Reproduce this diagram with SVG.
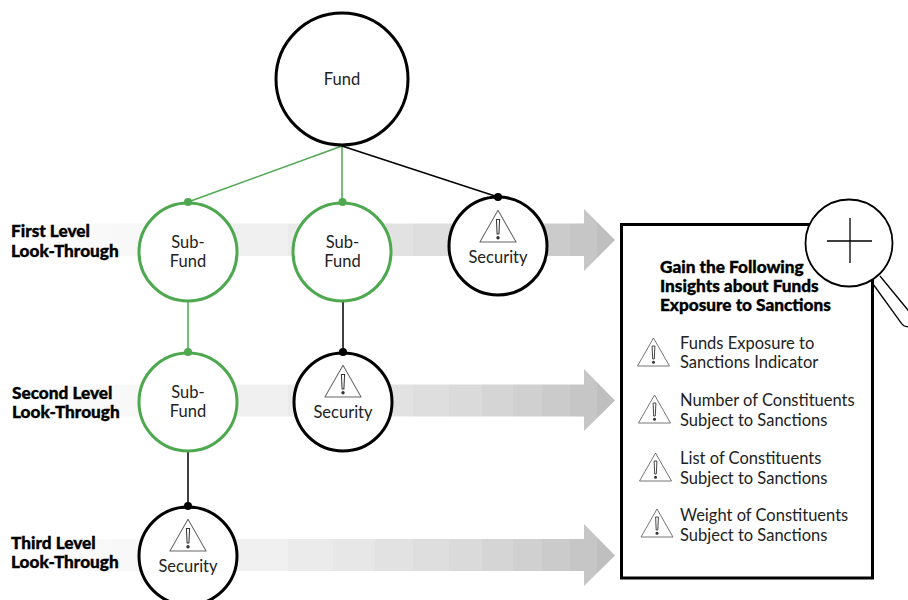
<svg xmlns="http://www.w3.org/2000/svg" xmlns:xlink="http://www.w3.org/1999/xlink" width="908" height="600" viewBox="0 0 908 600">
<style>
text{font-family:"Lato","Open Sans","Liberation Sans",sans-serif;fill:#222}
.t{font-size:16.500px;text-anchor:middle}
.b{font-size:16.500px}
.l{font-size:17.200px;font-weight:900;fill:#000;stroke:#000;stroke-width:.35}
.h{font-size:17.200px;font-weight:900;fill:#000;stroke:#000;stroke-width:.35}
.n{fill:#fff;stroke:#000;stroke-width:3}
.g{fill:#fff;stroke:#4ea84f;stroke-width:3}
.cg{stroke:#4ea84f;stroke-width:1.500;fill:none}
.ck{stroke:#000;stroke-width:1.500;fill:none}
.dg{fill:#4ea84f}
.dk{fill:#000}
.m{fill:none;stroke:#000;stroke-width:1.300}
</style>
<defs>
<linearGradient id="band" gradientUnits="userSpaceOnUse" x1="0" y1="0" x2="620" y2="0">
<stop offset="0" stop-color="#fff"/><stop offset=".1" stop-color="#fcfcfc"/>
<stop offset=".1" stop-color="#fafafa"/><stop offset=".3" stop-color="#f6f6f6"/>
<stop offset=".3" stop-color="#f0f0f0"/><stop offset=".465" stop-color="#f0f0f0"/>
<stop offset=".465" stop-color="#ebebeb"/><stop offset=".537" stop-color="#ebebeb"/>
<stop offset=".537" stop-color="#e7e7e7"/><stop offset=".605" stop-color="#e7e7e7"/>
<stop offset=".605" stop-color="#e2e2e2"/><stop offset=".666" stop-color="#e2e2e2"/>
<stop offset=".666" stop-color="#dedede"/><stop offset=".724" stop-color="#dedede"/>
<stop offset=".724" stop-color="#dadada"/><stop offset=".777" stop-color="#dadada"/>
<stop offset=".777" stop-color="#d5d5d5"/><stop offset=".827" stop-color="#d5d5d5"/>
<stop offset=".827" stop-color="#d0d0d0"/><stop offset=".874" stop-color="#d0d0d0"/>
<stop offset=".874" stop-color="#cbcbcb"/><stop offset=".919" stop-color="#cbcbcb"/>
<stop offset=".919" stop-color="#c6c6c6"/><stop offset=".963" stop-color="#c6c6c6"/>
<stop offset=".963" stop-color="#bfbfbf"/><stop offset="1" stop-color="#bfbfbf"/>
</linearGradient>
<g id="warn">
<path d="M0 -28L16 0H-16Z" fill="#fff" stroke="#666" stroke-width=".9" stroke-linejoin="round"/>
<path d="M-1.400 -20H1.400L.8 -7H-.8Z" fill="#fff" stroke="#333" stroke-width=".9"/>
<circle cx="0" cy="-3.800" r="1.500" fill="#333"/>
</g>
</defs>

<g id="arrows" fill="url(#band)">
<path d="M40 223.500H584V209L615 240L584 271V256H40Z"/>
<path d="M40 384.500H584V369L615 400.500L584 431V416.500H40Z"/>
<path d="M40 539H584V524L615 555.500L584 586V571H40Z"/>
</g>

<g id="connectors">
<path class="cg" d="M342 146L188 202M342 146V202M188 301V352"/>
<path class="ck" d="M342 146L498 197M343 301V352M188 450V506"/>
</g>

<g id="fund"><circle class="n" cx="342" cy="79" r="66"/><text class="t" x="342" y="85">Fund</text></g>

<g id="subfund-1"><circle class="g" cx="188" cy="252" r="49"/><circle class="dg" cx="188" cy="202" r="4"/>
<text class="t" x="188" y="248">Sub-</text><text class="t" x="188" y="267">Fund</text></g>
<g id="subfund-2"><circle class="g" cx="342" cy="252" r="49"/><circle class="dg" cx="342.500" cy="202" r="4"/>
<text class="t" x="342.500" y="248">Sub-</text><text class="t" x="342.500" y="267">Fund</text></g>
<g id="security-1"><circle class="n" cx="498" cy="246" r="49"/><circle class="dk" cx="498" cy="197" r="4"/>
<use xlink:href="#warn" href="#warn" transform="translate(498 242) scale(1.130)"/>
<text class="t" x="498" y="263">Security</text></g>

<g id="subfund-3"><circle class="g" cx="188" cy="402" r="49"/><circle class="dg" cx="188" cy="352" r="4"/>
<text class="t" x="188" y="398">Sub-</text><text class="t" x="188" y="417">Fund</text></g>
<g id="security-2"><circle class="n" cx="343" cy="402" r="49"/><circle class="dk" cx="343" cy="352" r="4"/>
<use xlink:href="#warn" href="#warn" transform="translate(343 397) scale(1.130)"/>
<text class="t" x="343" y="418">Security</text></g>
<g id="security-3"><circle class="n" cx="188" cy="556" r="49"/><circle class="dk" cx="188" cy="506" r="4"/>
<use xlink:href="#warn" href="#warn" transform="translate(188 551) scale(1.130)"/>
<text class="t" x="188" y="572">Security</text></g>

<g id="level-labels">
<text class="l" x="11" y="237">First Level</text><text class="l" x="11" y="257">Look-Through</text>
<text class="l" x="12" y="399">Second Level</text><text class="l" x="12" y="418">Look-Through</text>
<text class="l" x="11" y="549">Third Level</text><text class="l" x="11" y="568">Look-Through</text>
</g>

<g id="insights">
<rect x="621.500" y="224.500" width="251" height="353.500" fill="#fff" stroke="#000" stroke-width="3"/>
<text class="h" x="660" y="273">Gain the Following</text>
<text class="h" x="660" y="292">Insights about Funds</text>
<text class="h" x="660" y="311">Exposure to Sanctions</text>
<use xlink:href="#warn" href="#warn" transform="translate(653.500 366)"/>
<text class="b" x="680" y="349">Funds Exposure to</text><text class="b" x="680" y="368">Sanctions Indicator</text>
<use xlink:href="#warn" href="#warn" transform="translate(654.500 423)"/>
<text class="b" x="680" y="406">Number of Constituents</text><text class="b" x="680" y="426">Subject to Sanctions</text>
<use xlink:href="#warn" href="#warn" transform="translate(655.500 481)"/>
<text class="b" x="680" y="464">List of Constituents</text><text class="b" x="680" y="484">Subject to Sanctions</text>
<use xlink:href="#warn" href="#warn" transform="translate(657 537)"/>
<text class="b" x="680" y="521">Weight of Constituents</text><text class="b" x="680" y="541">Subject to Sanctions</text>
</g>

<g id="magnifier">
<path d="M880 276L912 315M873 284L902 324Q904 327 910 327" fill="none" stroke="#000" stroke-width="1.300"/>
<circle cx="849" cy="243" r="43.500" fill="#fff" stroke="#000" stroke-width="1.800"/>
<path class="m" d="M827 241H872M850 218V263"/>
</g>
</svg>
